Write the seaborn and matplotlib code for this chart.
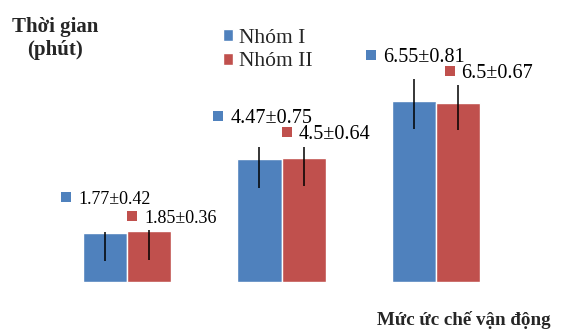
import matplotlib
matplotlib.use("Agg")
import matplotlib.pyplot as plt
from matplotlib.transforms import offset_copy
import seaborn as sns
import pandas as pd

# ---- data ----
levels = ["Mức 1", "Mức 2", "Mức 3"]
groups = ["Nhóm I", "Nhóm II"]
mean_g1 = [1.77, 4.47, 6.55]
mean_g2 = [1.85, 4.50, 6.50]
sd_g1 = [0.42, 0.75, 0.81]
sd_g2 = [0.36, 0.64, 0.67]
# error bar extents as drawn in the picture (below / above the bar top)
err_lo_g1 = [1.01, 1.05, 1.01]
err_hi_g1 = [0.05, 0.42, 0.80]
err_lo_g2 = [1.05, 1.03, 1.01]
err_hi_g2 = [0.02, 0.38, 0.65]

colors = ["#4F81BD", "#C0504D"]

df = pd.DataFrame({
    "level": levels * 2,
    "group": [groups[0]] * 3 + [groups[1]] * 3,
    "value": mean_g1 + mean_g2,
})

sns.set_style("white")
plt.rcParams["font.family"] = ["Liberation Serif", "DejaVu Serif"]

W, H = 576, 331
fig = plt.figure(figsize=(W / 100, H / 100), dpi=100)
ax_l, ax_r, ax_b, ax_t = 34.3, 528.7, 282.0, 33.6
ax = fig.add_axes([ax_l / W, 1 - ax_b / H, (ax_r - ax_l) / W, (ax_b - ax_t) / H])

sns.barplot(data=df, x="level", y="value", hue="group", order=levels,
            hue_order=groups, palette=colors, width=0.57, gap=0,
            errorbar=None, saturation=1, ax=ax, legend=True)

ax.set_xlim(-0.6, 2.6)
ax.set_ylim(0, 9)
sns.despine(ax=ax, left=True, bottom=True)
ax.set_xticks([])
ax.set_yticks([])

means = [mean_g1, mean_g2]
sds = [sd_g1, sd_g2]
errs = [(err_lo_g1, err_hi_g1), (err_lo_g2, err_hi_g2)]
# label placement (pixels relative to bar centre / bar top)
label_off = [[(-38.5, 36), (-41, 42.7), (-42.7, 46.5)],
             [(-17, 14.7), (-16.7, 25.7), (-8.5, 32)]]
label_size = [13, 14.5, 14.5]

bar_containers = list(ax.containers)
for gi, cont in enumerate(bar_containers):
    xs = [p.get_x() + p.get_width() / 2 for p in cont.patches]
    ax.errorbar(xs, means[gi], yerr=[errs[gi][0], errs[gi][1]], fmt="none",
                ecolor="black", elinewidth=1.1, capsize=0, zorder=3)
    for i, (x, m, s) in enumerate(zip(xs, means[gi], sds[gi])):
        dx, dy = label_off[gi][i]
        tr_sq = offset_copy(ax.transData, fig=fig, x=dx, y=dy, units="dots")
        ax.plot([x], [m], marker="s", ms=6.5, color=colors[gi], mew=0,
                transform=tr_sq, clip_on=False)
        tr_tx = offset_copy(ax.transData, fig=fig, x=dx + 12, y=dy, units="dots")
        fmt = f"{m:g}±{s:g}"
        ax.text(x, m, fmt, transform=tr_tx, ha="left", va="center_baseline",
                fontsize=label_size[i], color="black")

ax.legend(loc="upper left", bbox_to_anchor=(222.7 / W, 1 - 29.0 / H),
          bbox_transform=fig.transFigure, frameon=False, borderpad=0,
          borderaxespad=0, handlelength=0.5, handleheight=0.5,
          handletextpad=0.25, labelspacing=0.2, prop={"size": 15.5})

ax.set_ylabel("Thời gian\n(phút)", rotation=0, ha="center", va="center",
              fontsize=15, fontweight="bold", linespacing=1.2)
ax.yaxis.set_label_coords((55 - ax_l) / (ax_r - ax_l), (ax_b - 38) / (ax_b - ax_t))
ax.set_xlabel("Mức ức chế vận động", ha="center", va="baseline",
              fontsize=13.7, fontweight="bold")
ax.xaxis.set_label_coords((464 - ax_l) / (ax_r - ax_l), (ax_b - 325) / (ax_b - ax_t))

fig.savefig("out.png", dpi=100)
